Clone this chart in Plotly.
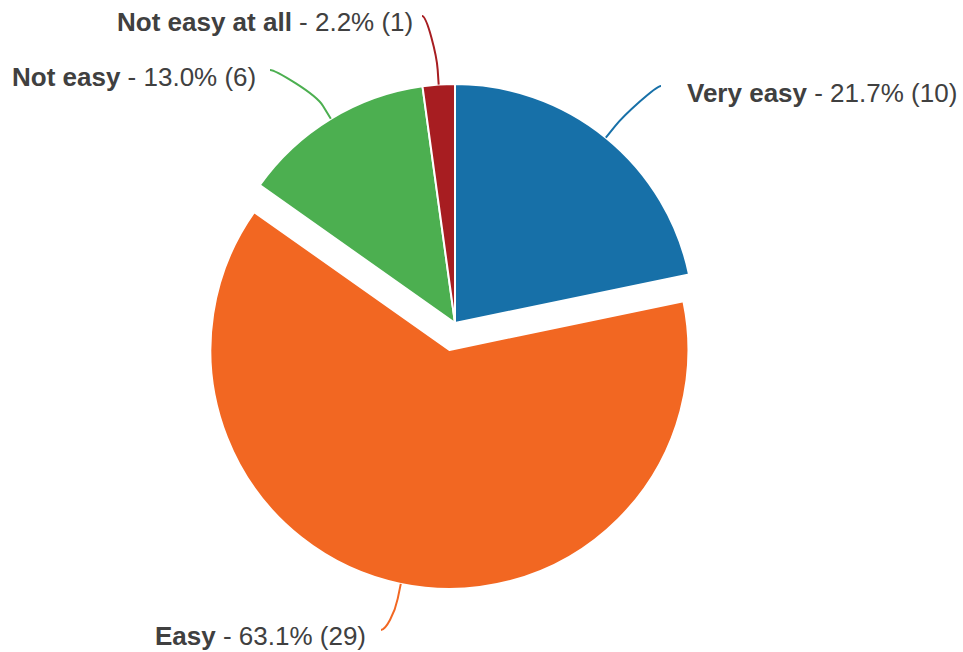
import math
import plotly.graph_objects as go

# Survey answers: how easy was it?
categories = ["Very easy", "Easy", "Not easy", "Not easy at all"]
counts = [10, 29, 6, 1]
percents = [21.7, 63.1, 13.0, 2.2]
colors = ["#1770a8", "#f26722", "#4caf50", "#a71d21"]
pulls = [0, 0.115, 0, 0]

W, H = 963, 652
CX, CY, R = 455, 323, 239          # pie centre and radius (pixels)
half = R * (1 + max(pulls))        # plotly shrinks the radius to leave room for the pull

# where each connector meets its label, and where each label sits (pixels)
connector_ends = [(661, 86), (381, 630), (270, 70), (422, 16)]
label_xy = [(685, 93, "left"), (368, 636, "right"), (258, 77, "right"), (415, 22, "right")]


def px(x):
    return x / W


def py(y):
    return 1 - y / H


fig = go.Figure(
    go.Pie(
        labels=categories,
        values=counts,
        sort=False,
        direction="clockwise",
        rotation=0,
        pull=pulls,
        marker=dict(colors=colors, line=dict(color="#ffffff", width=2)),
        textinfo="none",
        hoverinfo="label+value+percent",
        showlegend=False,
        domain=dict(
            x=[px(CX - half - 40), px(CX + half + 40)],
            y=[py(CY + half), py(CY - half)],
        ),
    )
)

total = sum(counts)
cum = 0
shapes = []
annotations = []
for i, v in enumerate(counts):
    theta = 2 * math.pi * (cum + v / 2) / total
    cum += v
    dx, dy = math.sin(theta), -math.cos(theta)
    ox = CX + pulls[i] * R * dx
    oy = CY + pulls[i] * R * dy
    touch = (ox + R * dx, oy + R * dy)
    brk = (ox + (R + 15) * dx, oy + (R + 15) * dy)
    ctrl2 = (ox + (R + 30) * dx, oy + (R + 30) * dy)
    ex, ey = connector_ends[i]
    side = -5 if label_xy[i][2] == "left" else 5
    ctrl1 = (ex + side, ey)
    path = (
        f"M {px(ex)},{py(ey)} "
        f"C {px(ctrl1[0])},{py(ctrl1[1])} {px(ctrl2[0])},{py(ctrl2[1])} {px(brk[0])},{py(brk[1])} "
        f"L {px(touch[0])},{py(touch[1])}"
    )
    shapes.append(dict(type="path", path=path, xref="paper", yref="paper",
                       line=dict(color=colors[i], width=2)))

    lx, ly, anchor = label_xy[i]
    annotations.append(dict(
        x=px(lx), y=py(ly), xref="paper", yref="paper",
        xanchor=anchor, yanchor="middle", showarrow=False,
        text=f"<b>{categories[i]}</b> - {percents[i]:.1f}% ({v})",
        font=dict(family="Liberation Sans, Arial, sans-serif", size=26, color="#404040"),
    ))

fig.update_layout(
    width=W, height=H,
    margin=dict(l=0, r=0, t=0, b=0),
    paper_bgcolor="#ffffff",
    plot_bgcolor="#ffffff",
    shapes=shapes,
    annotations=annotations,
)

fig.write_html("out.html")
